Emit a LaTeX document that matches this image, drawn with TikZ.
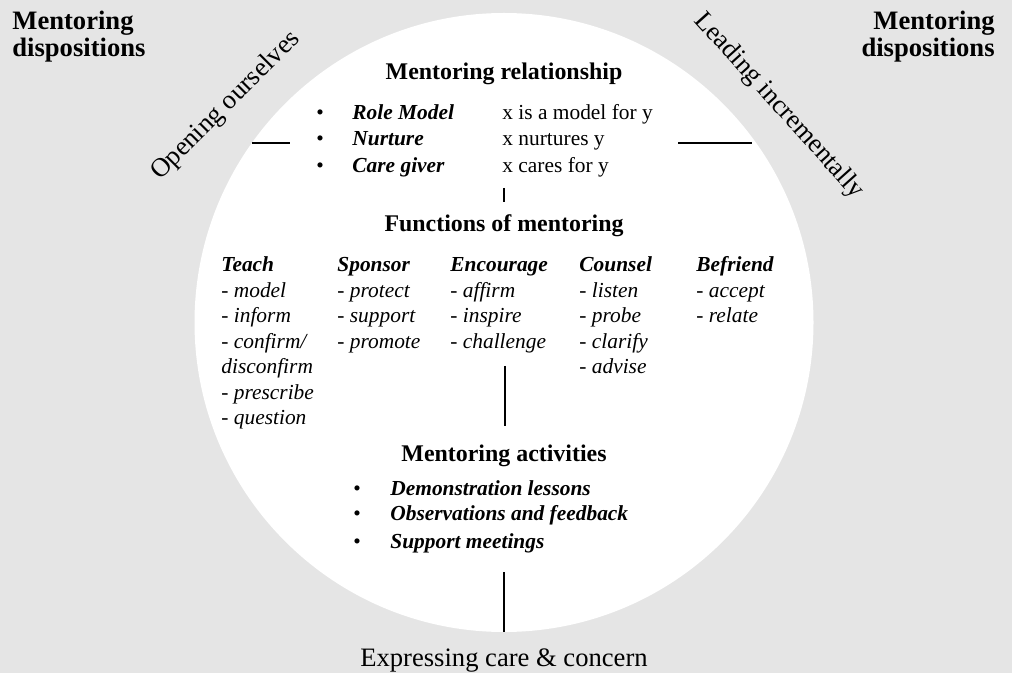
\documentclass[tikz,border=0pt]{standalone}
\usepackage{fontspec}
\setmainfont{Liberation Serif}

\tikzset{
  heading/.style={font=\fontsize{11.95}{14}\selectfont\bfseries, inner sep=0pt},
  bigtext/.style={font=\fontsize{13.3}{13.5}\selectfont, inner sep=0pt},
  body/.style={font=\fontsize{10.7}{12.75}\selectfont, inner sep=0pt},
  column/.style={inner sep=0pt, font=\fontsize{10.7}{12.75}\selectfont\itshape, anchor=base west},
  stub/.style={line width=1.2pt}
}
\newcommand{\colstack}[1]{\begin{tabular}[t]{@{}l@{}}#1\end{tabular}}

\begin{document}
\begin{tikzpicture}[x=0.5pt,y=-0.5pt]
% Background ..
\path[fill=black!10] (0,0) rectangle (1012,673);
\useasboundingbox (0,0) rectangle (1012,673);
\path[fill=white] (504,322.5) circle[radius=309.5]; % Circle

% Dispositions
\node [bigtext,font=\fontsize{13.3}{13.5}\selectfont\bfseries,anchor=base west] (displeft) at (12,30) {\begin{tabular}[t]{@{}l@{}}Mentoring\\dispositions\end{tabular}};
\node [bigtext,font=\fontsize{13.3}{13.5}\selectfont\bfseries,anchor=base east] (dispright) at (995,30) {\begin{tabular}[t]{@{}r@{}}Mentoring\\dispositions\end{tabular}};
\node [bigtext,rotate=45] (opening) at (226,106) {Opening ourselves};
\node [bigtext,rotate=-48] (leading) at (779,106) {Leading incrementally};

% Mentoring relationship
\node [heading,anchor=base] (relation) at (504,80) {Mentoring relationship};
\node [body,anchor=base] (bulA) at (320,120) {\textbullet};
\node [body,anchor=base] (bulB) at (320,146) {\textbullet};
\node [body,anchor=base] (bulC) at (320,173) {\textbullet};
\node [body,anchor=base west] (role) at (352,120) {\textbf{\textit{Role Model}}};
\node [body,anchor=base west] (nurture) at (352,146) {\textbf{\textit{Nurture}}};
\node [body,anchor=base west] (care) at (352,173) {\textbf{\textit{Care giver}}};
\node [body,anchor=base west] (roledesc) at (502,120) {x is a model for y};
\node [body,anchor=base west] (nurturedesc) at (502,146) {x nurtures y};
\node [body,anchor=base west] (caredesc) at (502,173) {x cares for y};

% Functions of mentoring
\node [heading,anchor=base] (functions) at (504,232) {Functions of mentoring};
\node [column] (teach) at (221,272) {\colstack{\textbf{Teach}\\- model\\- inform\\- confirm/\\disconfirm\\- prescribe\\- question}};
\node [column] (sponsor) at (337,272) {\colstack{\textbf{Sponsor}\\- protect\\- support\\- promote}};
\node [column] (encourage) at (450,272) {\colstack{\textbf{Encourage}\\- affirm\\- inspire\\- challenge}};
\node [column] (counsel) at (579,272) {\colstack{\textbf{Counsel}\\- listen\\- probe\\- clarify\\- advise}};
\node [column] (befriend) at (696,272) {\colstack{\textbf{Befriend}\\- accept\\- relate}};

% Mentoring activities
\node [heading,anchor=base] (activities) at (504,462) {Mentoring activities};
\node [body,anchor=base] (bulD) at (357,495) {\textbullet};
\node [body,anchor=base] (bulE) at (357,520) {\textbullet};
\node [body,anchor=base] (bulF) at (357,548) {\textbullet};
\node [body,anchor=base west] (demo) at (390,495) {\textbf{\textit{Demonstration lessons}}};
\node [body,anchor=base west] (observe) at (390,520) {\textbf{\textit{Observations and feedback}}};
\node [body,anchor=base west] (meet) at (390,548) {\textbf{\textit{Support meetings}}};

\node [bigtext,anchor=base] (expressing) at (504,666) {Expressing care \& concern};

% Lines
\coordinate (stubLa) at (252,143); \coordinate (stubLb) at (290,143);
\coordinate (stubRa) at (678,143); \coordinate (stubRb) at (752,143);
\coordinate (linkAa) at (504,188); \coordinate (linkAb) at (504,202);
\coordinate (linkBa) at (505,366); \coordinate (linkBb) at (505,426);
\coordinate (linkCa) at (504,572); \coordinate (linkCb) at (504,632);
\draw[stub] (stubLa) -- (stubLb); % Horizontal
\draw[stub] (stubRa) -- (stubRb);
\draw[stub] (linkAa) -- (linkAb); % Vertical
\draw[stub] (linkBa) -- (linkBb);
\draw[stub] (linkCa) -- (linkCb);
\end{tikzpicture}
\end{document}
